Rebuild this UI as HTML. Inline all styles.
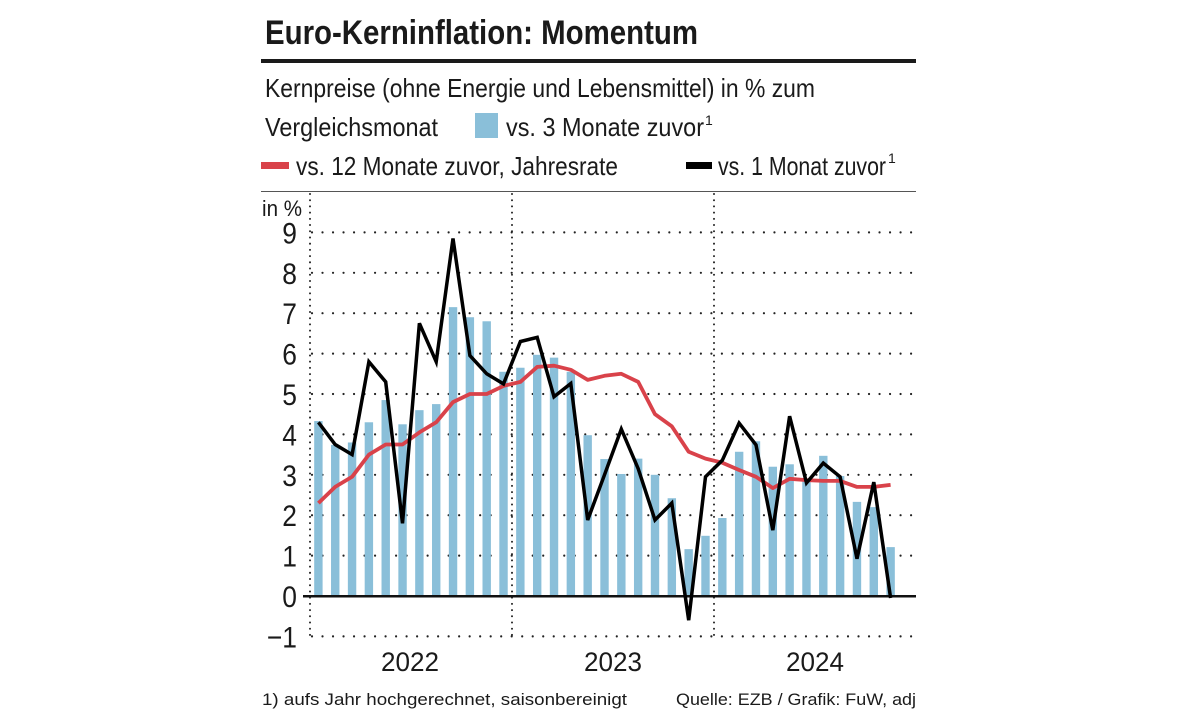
<!DOCTYPE html>
<html><head><meta charset="utf-8"><style>
body{margin:0;background:#fff;}
svg{display:block;font-family:"Liberation Sans Narrow","Liberation Sans",sans-serif;}
</style></head><body>
<svg id="c" width="1179" height="713" xmlns="http://www.w3.org/2000/svg">
<text x="265" y="44" font-size="34" font-weight="bold" fill="#1a1a1a" textLength="433" lengthAdjust="spacingAndGlyphs">Euro-Kerninflation: Momentum</text>
<rect x="261" y="59" width="655" height="4" fill="#1a1a1a"/>
<text x="265" y="97" font-size="26" fill="#1a1a1a" textLength="550" lengthAdjust="spacingAndGlyphs">Kernpreise (ohne Energie und Lebensmittel) in % zum</text>
<text x="265" y="136" font-size="26" fill="#1a1a1a" textLength="173" lengthAdjust="spacingAndGlyphs">Vergleichsmonat</text>
<rect x="475" y="113" width="23" height="25" fill="#8abfd9"/>
<text x="506" y="136" font-size="26" fill="#1a1a1a" textLength="198" lengthAdjust="spacingAndGlyphs">vs. 3 Monate zuvor</text>
<text x="705" y="125" font-size="14" fill="#1a1a1a">1</text>
<rect x="261" y="162" width="28" height="7" fill="#d9424a"/>
<text x="296" y="175" font-size="26" fill="#1a1a1a" textLength="322" lengthAdjust="spacingAndGlyphs">vs. 12 Monate zuvor, Jahresrate</text>
<rect x="686" y="162" width="26" height="7" fill="#000"/>
<text x="718" y="175" font-size="26" fill="#1a1a1a" textLength="168" lengthAdjust="spacingAndGlyphs">vs. 1 Monat zuvor</text>
<text x="888" y="163" font-size="14" fill="#1a1a1a">1</text>
<rect x="261" y="191" width="655" height="1" fill="#555"/>
<text x="262" y="216" font-size="22" fill="#1a1a1a" textLength="40" lengthAdjust="spacingAndGlyphs">in %</text>
<g id="grid"></g>
<g id="bars"></g>
<rect x="303" y="595" width="613" height="2.5" fill="#111"/>
<polyline id="red" fill="none" stroke="#d9424a" stroke-width="3.8" stroke-linejoin="round"/>
<polyline id="blk" fill="none" stroke="#000" stroke-width="3.5" stroke-linejoin="miter"/>
<text x="381" y="671" font-size="27" fill="#1a1a1a" textLength="58" lengthAdjust="spacingAndGlyphs">2022</text>
<text x="584" y="671" font-size="27" fill="#1a1a1a" textLength="58" lengthAdjust="spacingAndGlyphs">2023</text>
<text x="786" y="671" font-size="27" fill="#1a1a1a" textLength="58" lengthAdjust="spacingAndGlyphs">2024</text>
<text x="262" y="705" font-size="17" fill="#1a1a1a" textLength="365" lengthAdjust="spacingAndGlyphs">1) aufs Jahr hochgerechnet, saisonbereinigt</text>
<text x="676" y="705" font-size="17" fill="#1a1a1a" textLength="240" lengthAdjust="spacingAndGlyphs">Quelle: EZB / Grafik: FuW, adj</text>
</svg>
<script>
var NS="http://www.w3.org/2000/svg";
function Y(v){return 596-40.4*v;}
function X(i){return 318.4+16.83*i;}
function el(p,t,a,txt){var e=document.createElementNS(NS,t);for(var k in a)e.setAttribute(k,a[k]);if(txt!==undefined)e.textContent=txt;document.getElementById(p).appendChild(e);return e;}
for(var v=-1;v<=9;v++){
 if(v!==0) el("grid","line",{x1:312,x2:916,y1:Y(v),y2:Y(v),stroke:"#222","stroke-width":2.2,"stroke-dasharray":"0.01 10.5","stroke-linecap":"round"});
 var t=el("grid","text",{x:297,y:Y(v)+11,"font-size":30,fill:"#1a1a1a","text-anchor":"end"},v<0?"\u22121":String(v));
 t.setAttribute("transform","translate("+(297*0.12)+",0) scale(0.88,1)");
}
[310,512,714].forEach(function(x){el("grid","line",{x1:x,x2:x,y1:194,y2:640,stroke:"#222","stroke-width":2,"stroke-dasharray":"0.01 6.2","stroke-linecap":"round"});});
var bars=[4.33,3.74,3.8,4.3,4.85,4.25,4.6,4.75,7.15,6.9,6.8,5.55,
5.65,5.97,5.9,5.55,3.98,3.39,3.02,3.4,3.0,2.42,1.16,1.49,
1.93,3.57,3.83,3.2,3.26,2.87,3.47,2.97,2.33,2.2,1.21];
bars.forEach(function(b,i){el("bars","rect",{x:X(i)-4.2,y:Y(b),width:8.4,height:596-Y(b),fill:"#8abfd9"});});
var blk=[4.3,3.75,3.5,5.8,5.3,1.8,6.75,5.8,8.85,5.95,5.5,5.25,
6.3,6.4,4.93,5.26,1.88,3.0,4.13,3.15,1.88,2.3,-0.6,2.95,
3.36,4.28,3.74,1.63,4.45,2.8,3.29,2.95,0.92,2.82,-0.05];
var red=[2.3,2.7,2.95,3.5,3.75,3.75,4.05,4.3,4.8,5.0,5.0,5.2,
5.3,5.67,5.7,5.6,5.35,5.45,5.5,5.3,4.5,4.2,3.57,3.4,
3.3,3.12,2.95,2.67,2.9,2.87,2.85,2.85,2.7,2.7,2.75];
function pts(a){return a.map(function(v,i){return X(i).toFixed(1)+","+Y(v).toFixed(1);}).join(" ");}
document.getElementById("red").setAttribute("points",pts(red));
document.getElementById("blk").setAttribute("points",pts(blk));
</script>
</body></html>
